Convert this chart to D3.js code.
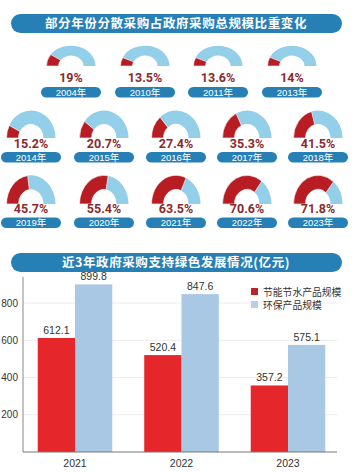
<!DOCTYPE html>
<html><head><meta charset="utf-8">
<script src="https://cdn.jsdelivr.net/npm/d3@7/dist/d3.min.js"></script>
<style>
html,body{margin:0;padding:0;background:#fff;}
svg{display:block;font-family:"Noto Sans CJK SC","Noto Sans",sans-serif;}
</style></head>
<body>
<svg id="c" width="358" height="472"></svg>
<script>
// ---- Data ----
const title1 = "部分年份分散采购占政府采购总规模比重变化";
const gaugeYears = ["2004年","2010年","2011年","2013年","2014年","2015年","2016年","2017年","2018年","2019年","2020年","2021年","2022年","2023年"];
const gaugeValues = [19, 13.5, 13.6, 14, 15.2, 20.7, 27.4, 35.3, 41.5, 45.7, 55.4, 63.5, 70.6, 71.8];
const gaugeLabels = ["19%","13.5%","13.6%","14%","15.2%","20.7%","27.4%","35.3%","41.5%","45.7%","55.4%","63.5%","70.6%","71.8%"];

const title2 = "近3年政府采购支持绿色发展情况(亿元)";
const barYears = ["2021","2022","2023"];
const seriesNames = ["节能节水产品规模","环保产品规模"];
const energyValues = [612.1, 520.4, 357.2];
const ecoValues = [899.8, 847.6, 575.1];
const yTicks = [200, 400, 600, 800];

// ---- Drawing ----
const svg = d3.select("#c");
const blue = "#2680b5";

function titleBar(y, text){
  svg.append("rect").attr("x",11).attr("y",y).attr("width",331).attr("height",19)
    .attr("rx",9.5).attr("fill",blue);
  svg.append("text").attr("x",176).attr("y",y+14.3).attr("text-anchor","middle")
    .attr("fill","#fff").attr("font-size",12.5).attr("font-weight","bold")
    .attr("letter-spacing",0.6).text(text);
}
titleBar(14, title1);

// gauge layout: row 1 has 4, rows 2-3 have 5
const rows = [
  {cx:[71,145,218,292], cy:66, sy:0.83, tb:81.5, py:87},
  {cx:[31,104,176,247,318], cy:138, sy:1.12, tb:147.8, py:152},
  {cx:[31,104,176,247,318], cy:204, sy:1.17, tb:212.5, py:217.5}
];
const angle = d3.scaleLinear().domain([0,100]).range([-Math.PI/2, Math.PI/2]);
const arc = d3.arc().innerRadius(12.5).outerRadius(24.5);
let idx = 0;
rows.forEach(row => {
  row.cx.forEach(cx => {
    const i = idx++;
    if (i >= gaugeValues.length) return;
    const g = svg.append("g").attr("transform",`translate(${cx},0)`);
    const ga = g.append("g").attr("transform",`translate(0,${row.cy}) scale(1,${row.sy})`);
    ga.append("path").attr("d", arc({startAngle: angle(gaugeValues[i]), endAngle: angle(100)})).attr("fill","#93cfe8");
    ga.append("path").attr("d", arc({startAngle: angle(0), endAngle: angle(gaugeValues[i])})).attr("fill","#b81d24")
      .attr("stroke","#fff").attr("stroke-width",0.6);
    g.append("text").attr("x",0).attr("y",row.tb).attr("text-anchor","middle")
      .attr("font-size",12.5).attr("font-weight","bold").attr("fill","#8a2a2c")
      .attr("font-family","Roboto, 'Noto Sans', sans-serif").text(gaugeLabels[i]);
    g.append("rect").attr("x",-30).attr("y",row.py).attr("width",60).attr("height",10.5)
      .attr("rx",5.25).attr("fill",blue);
    g.append("text").attr("x",0).attr("y",row.py+8.6).attr("text-anchor","middle")
      .attr("font-family","'Liberation Sans', Arial, 'Noto Sans CJK SC', sans-serif")
      .attr("font-size",9.5).attr("fill","#fff").text(gaugeYears[i]);
  });
});

titleBar(253, title2);

// bar chart
const y = d3.scaleLinear().domain([0, 800]).range([452, 303]);
const x0 = d3.scaleBand().domain(barYears).range([21.75, 341.25]).paddingInner(0.3).paddingOuter(0.15);
const x1 = d3.scaleBand().domain(seriesNames).range([0, x0.bandwidth()]);
const colors = ["#e5262a","#a9c8e4"];
const legendColors = ["#b8252a","#b7d0e8"];

// gridlines
svg.append("g").selectAll("line").data(yTicks).join("line")
  .attr("x1",23).attr("x2",337).attr("y1",d=>y(d)).attr("y2",d=>y(d))
  .attr("stroke","#ececec").attr("stroke-width",1);

const groups = svg.append("g").selectAll("g").data(barYears).join("g")
  .attr("transform", d => `translate(${x0(d)},0)`);
groups.each(function(yr, i){
  const vals = [energyValues[i], ecoValues[i]];
  const g = d3.select(this);
  vals.forEach((v, k) => {
    g.append("rect").attr("x", x1(seriesNames[k])).attr("width", x1.bandwidth())
      .attr("y", y(v)).attr("height", y(0) - y(v)).attr("fill", colors[k]);
    g.append("text").attr("x", x1(seriesNames[k]) + x1.bandwidth()/2).attr("y", y(v) - 4)
      .attr("text-anchor","middle").attr("font-size",10.5).attr("fill","#333")
      .attr("font-family","Arial, 'Liberation Sans', sans-serif").text(v.toFixed(1));
  });
});

// axes
const yAxis = d3.axisLeft(y).tickValues(yTicks).tickSize(0).tickPadding(5);
const ya = svg.append("g").attr("transform","translate(23,0)").call(yAxis);
ya.select(".domain").remove();
ya.selectAll("text").attr("font-size",10).attr("fill","#333").attr("font-family","Arial, 'Liberation Sans', sans-serif");
svg.append("line").attr("x1",23).attr("x2",23).attr("y1",277).attr("y2",452).attr("stroke","#888").attr("stroke-width",1);

const xAxis = d3.axisBottom(x0).tickSize(0).tickPadding(8);
const xa = svg.append("g").attr("transform","translate(0,452)").call(xAxis);
xa.select(".domain").remove();
xa.selectAll("text").attr("font-size",10.5).attr("fill","#333").attr("font-family","Arial, 'Liberation Sans', sans-serif");
svg.append("line").attr("x1",23).attr("x2",337).attr("y1",452).attr("y2",452).attr("stroke","#777").attr("stroke-width",1);

// legend
seriesNames.forEach((n, k) => {
  const ly = 292 + k*13;
  svg.append("rect").attr("x",251).attr("y",ly-4).attr("width",7).attr("height",7).attr("fill",legendColors[k]);
  svg.append("text").attr("x",263).attr("y",ly+3.5).attr("font-size",9.8).attr("fill","#333").text(n);
});
</script>
</body></html>
